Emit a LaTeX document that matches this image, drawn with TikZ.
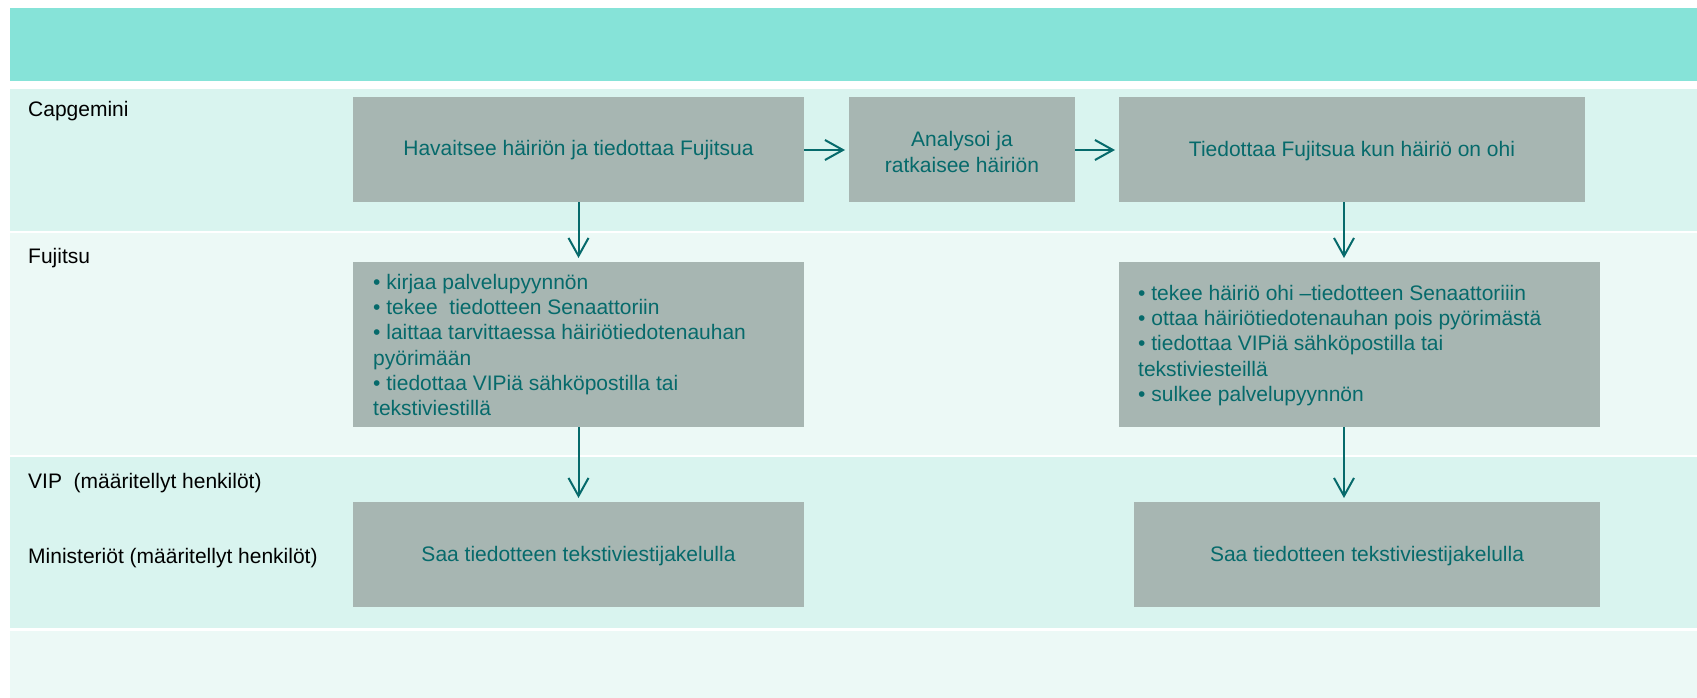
\documentclass[tikz,border=0pt]{standalone}
\usepackage{fontspec}
\setmainfont{Liberation Sans}
\usetikzlibrary{arrows.meta}
\definecolor{hdr}{HTML}{86E3D8}
\definecolor{banddark}{HTML}{D9F4EF}
\definecolor{bandlight}{HTML}{ECF9F6}
\definecolor{boxfill}{HTML}{A7B6B2}
\definecolor{teal}{HTML}{066A6B}
\tikzset{
  band/.style={draw=none},
  stepbox/.style={fill=boxfill, draw=none, inner sep=0pt},
  boxtext/.style={text=teal, font=\fontsize{21}{25.3}\selectfont, inner sep=0pt, align=center},
  listtext/.style={text=teal, font=\fontsize{21}{25.3}\selectfont, inner sep=0pt, align=left, anchor=west},
  lanelabel/.style={text=black, font=\fontsize{21}{25}\selectfont, inner sep=0pt, anchor=base west},
  flow/.style={draw=teal, line width=2pt, -{Straight Barb[length=18pt,width=20pt,line width=2pt]}, shorten >=4pt}
}
\begin{document}
\begin{tikzpicture}[x=1pt,y=-1pt]
\useasboundingbox (0,0) rectangle (1697,698);
\fill[white] (0,0) rectangle (1697,698);
% bands
\fill[hdr] (10,8) rectangle (1697,81);
\fill[banddark] (10,89) rectangle (1697,231);
\fill[bandlight] (10,233) rectangle (1697,455);
\fill[banddark] (10,457) rectangle (1697,628);
\fill[bandlight] (10,631) rectangle (1697,698);
% lane labels
\node[lanelabel] (lcap) at (28,116.5) {Capgemini};
\node[lanelabel] (lfuj) at (28,263) {Fujitsu};
\node[lanelabel] (lvip) at (28,488) {VIP\ \ (määritellyt henkilöt)};
\node[lanelabel] (lmin) at (28,563) {Ministeriöt (määritellyt henkilöt)};
% boxes
\fill[stepbox] (353,97) rectangle (804,202);
\node[boxtext] (b1) at (578.5,150) {Havaitsee häiriön ja tiedottaa Fujitsua};
\coordinate (b1s) at (578.5,202);
\coordinate (b1e) at (804,150);
\fill[stepbox] (849,97) rectangle (1075,202);
\node[boxtext] (b2) at (962,152) {Analysoi ja\\ratkaisee häiriön};
\coordinate (b2w) at (849,150);
\coordinate (b2e) at (1075,150);
\fill[stepbox] (1119,97) rectangle (1585,202);
\node[boxtext] (b3) at (1352,151) {Tiedottaa Fujitsua kun häiriö on ohi};
\coordinate (b3w) at (1119,150);
\coordinate (b3s) at (1344,202);
\fill[stepbox] (353,262) rectangle (804,427);
\node[listtext] (b4) at (373,345) {• kirjaa palvelupyynnön\\• tekee\ \ tiedotteen Senaattoriin\\• laittaa tarvittaessa häiriötiedotenauhan\\pyörimään\\• tiedottaa VIPiä sähköpostilla tai\\tekstiviestillä};
\coordinate (b4n) at (578.5,262);
\coordinate (b4s) at (578.5,427);
\fill[stepbox] (1119,262) rectangle (1600,427);
\node[listtext] (b5) at (1138,345.5) {• tekee häiriö ohi –tiedotteen Senaattoriiin\\• ottaa häiriötiedotenauhan pois pyörimästä\\• tiedottaa VIPiä sähköpostilla tai\\tekstiviesteillä\\• sulkee palvelupyynnön};
\coordinate (b5n) at (1344,262);
\coordinate (b5s) at (1344,427);
\fill[stepbox] (353,502) rectangle (804,607);
\node[boxtext] (b6) at (578.5,556) {Saa tiedotteen tekstiviestijakelulla};
\coordinate (b6n) at (578.5,502);
\fill[stepbox] (1134,502) rectangle (1600,607);
\node[boxtext] (b7) at (1367,556) {Saa tiedotteen tekstiviestijakelulla};
\coordinate (b7n) at (1344,502);
% arrows
\draw[flow] (b1e) -- (b2w);
\draw[flow] (b2e) -- (b3w);
\draw[flow] (b1s) -- (b4n);
\draw[flow] (b3s) -- (b5n);
\draw[flow] (b4s) -- (b6n);
\draw[flow] (b5s) -- (b7n);
\end{tikzpicture}
\end{document}
